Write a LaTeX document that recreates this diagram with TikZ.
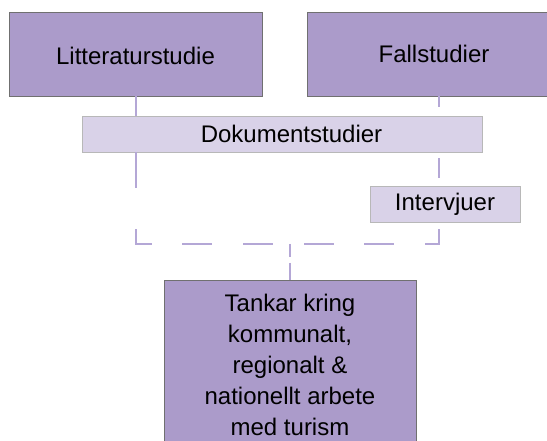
\documentclass[tikz,border=0pt]{standalone}
\usepackage{fontspec}
\setmainfont{Liberation Sans}
\definecolor{darkbox}{HTML}{AB9BCA}
\definecolor{lightbox}{HTML}{D9D2E8}
\definecolor{connline}{HTML}{B4A7D6}
\definecolor{darkedge}{HTML}{707070}
\definecolor{lightedge}{HTML}{B8B8B8}
\tikzset{
  bigbox/.style={draw=darkedge, line width=0.8pt, fill=darkbox, inner sep=0pt,
    font=\fontsize{24}{31}\selectfont, text=black},
  smallbox/.style={draw=lightedge, line width=0.8pt, fill=lightbox, inner sep=0pt,
    font=\fontsize{24}{31}\selectfont, text=black},
  conn/.style={draw=connline, line width=2.2pt, line cap=butt},
  txt/.style={inner sep=0pt, font=\fontsize{24}{31}\selectfont, text=black, align=center}
}
\begin{document}
\begin{tikzpicture}[x=1pt, y=-1pt]
\useasboundingbox (0,0) rectangle (547,441);
\clip (0,0) rectangle (547,441);
\fill[white] (0,0) rectangle (547,441);

\coordinate (lx) at (136,0);
\coordinate (rx) at (439,0);
\coordinate (jr) at (439,244);
\coordinate (jc) at (290,244);

% boxes
\node[bigbox, minimum width=253pt, minimum height=84pt, text height=22pt, text depth=0pt] (litt) at (135.5,54) {Litteraturstudie};
\node[bigbox, minimum width=254pt, minimum height=84pt] (fall) at (434,54) {Fallstudier};
\node[smallbox, minimum width=400pt, minimum height=36pt] (dok) at (282,134) {\hspace*{19pt}Dokumentstudier};
\node[smallbox, minimum width=150pt, minimum height=36pt] (int) at (445,204) {Intervjuer};
\node[bigbox, minimum width=252pt, minimum height=220pt, anchor=north] (tank) at (290,280) {};
\node[txt, anchor=north] (tanktxt) at (290,293.7) {Tankar kring\\kommunalt,\\regionalt \&\\nationellt arbete\\med turism};

% connectors
\draw[conn] (litt.south -| lx) -- (dok.north -| lx);
\draw[conn, dash pattern=on 11pt off 20pt] (fall.south -| rx) -- (dok.north -| rx);
\draw[conn, dash pattern=on 0pt off 6pt on 20pt off 20pt] (dok.south -| rx) -- (int.north -| rx);
\draw[conn, dash pattern=on 36pt off 41pt on 31pt off 30pt on 30pt off 31pt on 30pt off 31pt on 30pt off 30pt on 30pt off 31pt on 29pt off 20pt]
  (dok.south -| lx) |- (jr) -- (int.south -| rx);
\draw[conn, dash pattern=on 13pt off 6pt on 30pt] (jc) -- (tank.north);
\end{tikzpicture}
\end{document}
